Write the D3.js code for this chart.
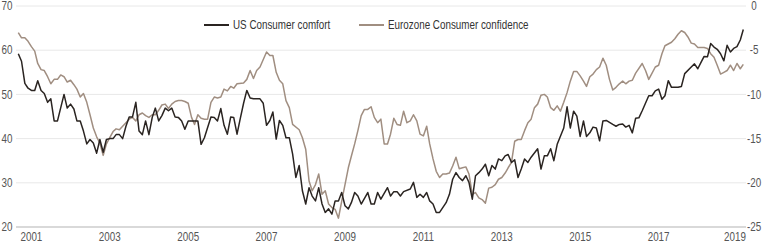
<!DOCTYPE html>
<html>
<head>
<meta charset="utf-8">
<script src="https://cdn.jsdelivr.net/npm/d3@7/dist/d3.min.js"></script>
<style>
  html, body { margin: 0; padding: 0; background: #fff; }
  svg { display: block; }
  text { font-family: "Liberation Sans Narrow", "Liberation Sans", Arial, sans-serif; }
</style>
</head>
<body>
<svg id="chart" width="765" height="242"></svg>
<script>
// ---- data ----
const seriesNames = ["US Consumer comfort", "Eurozone Consumer confidence"];
const firstMonth = "2000-09";
const lastMonth = "2019-03";
const yearLabels = ["2001", "2003", "2005", "2007", "2009", "2011", "2013", "2015", "2017", "2019"];
const leftTicks = [20, 30, 40, 50, 60, 70];
const rightTicks = [-25, -20, -15, -10, -5, 0];

// US Consumer comfort (left axis), monthly from 2000-09
const usComfort = [
  59.2, 57.5, 52.5, 51.4, 50.9, 50.9, 53.1, 50.9, 50.2, 48.2,
  49, 44, 44, null, 50, 46.9, 47.8, 46.7, 44, 44,
  41.7, 38.8, 39.8, 39, 36.7, 39.8, 36.9, 39.8, 40, 40,
  40.9, 40.9, 40, 42.8, 44.9, 44.9, 48.2, 41.7, 40.9, 44,
  40.9, 44.8, 46.9, 44, 45.2, 46.9, 46.3, 46.9, 44.9, 44.8,
  44, 42.1, 44, null, 44, 44, 38.7, 40.2, 42.5, 44.9,
  44.8, 44, 46.8, 43, 41, 44.9, 44.8, 41, 44.5, 48,
  50.9, 49.2, 49, 49, 49, 48, 43, 44.1, 46, 39.9,
  44.1, 43, 40.2, 40.2, 36.5, 31.2, 33.9, 28.2, 25.2, 28.9,
  27, 25.9, 28.9, 25.2, 23.3, 24.1, 22.9, 25.9, 25.9, 27.8,
  24.8, 24.1, 25.5, 27.8, 27, 25.2, null, 27.8, 25.2, 25.2,
  27.8, 26.3, null, 28.9, 27, 28, 28, 27, 28, null,
  28.6, 30.1, 26.7, 27.4, 26.7, 27.8, 25.9, 25.2, 23.3, 23.3,
  null, 25.5, 27.4, 30.8, 32.3, 31.2, 30.5, 31.6, 30.1, 26.3,
  31.6, 32.3, 33.1, 34.2, 31.6, 33.9, 33.1, 35.4, 35, 36.1,
  36.4, 34.6, 35.2, 31.2, 33.1, 35.4, 34.6, 35.8, null, 37.7,
  33.1, 36.1, 36.1, 37.7, 35, 38.7, null, 42.4, 47.2, 42.4,
  46.2, 45.1, 40.5, 44, 40.5, 41.3, 42.6, 42.4, 39.5, 44,
  44.1, null, 43.2, 42.8, 43.2, 43.3, 42.6, 43, 41.3, 44.6,
  44.7, 46.3, null, 49.7, 49.7, 50.8, 51.2, 48.9, 49.7, 53.1,
  51.6, null, 51.6, 51.8, 54.7, null, 56.2, 56.9, 55.8, 57.3,
  58.6, 58.5, 61.5, 60.7, 60.2, 59.2, 57.6, 61.1, 59.6, 60.4,
  60.8, 62.3, 64.7
];

// Eurozone Consumer confidence (right axis), monthly from 2000-09
const ezConfidence = [
  -3.0, -3.6, -3.6, -4.0, -4.6, -5.1, -6.5, -7.2, -7.3, -8.0,
  -8.8, -8.3, -8.3, -7.8, -8.0, -8.6, -8.4, -8.9, -9.4, -10.3,
  -9.9, -10.9, -12.3, -13.8, -14.8, -15.5, -16.9, -15.6, -14.9, -14.2,
  -13.9, -14.0, -13.6, -13.2, -12.8, -12.6, -13.0, -12.3, -12.1, -12.4,
  -12.6, -12.3, -12.3, -11.8, -11.2, -11.1, -11.6, -11.1, -10.8, -10.7,
  -10.7, -10.8, -11.0, -12.6, -13.4, -12.3, -12.7, -12.8, -12.8, -10.9,
  -10.3, -10.4, -10.3, -9.4, -9.6, -9.1, -9.3, -8.8, null, -8.7,
  -8.3, -7.3, -8.2, -7.3, -6.9, null, -5.2, -5.6, -5.6, -7.5,
  -8.4, -8.8, -10.7, -11.5, -13.4, null, -14.0, -14.9, -16.2, -19.8,
  -20.9, -20.2, -19.0, -21.3, -20.9, -22.4, -22.8, -23.0, -24.0, -22.1,
  -20.2, -18.3, -17.0, -15.6, -14.1, -12.4, -11.7, -11.7, -11.4, -12.6,
  -13.2, -12.8, -15.6, -15.6, -14.5, -12.7, -13.4, -13.5, -11.9, -13.2,
  -13.0, -12.3, -13.0, -14.5, -14.7, -13.6, -15.6, -17.3, -18.7, -19.4,
  -19.0, -19.0, -18.9, -18.1, -17.1, -18.4, -18.3, -18.2, -19.0, -21.3,
  -21.1, -21.7, -21.9, -22.3, -20.6, -20.5, -20.2, -19.6, -19.4, -18.9,
  -18.3, -17.7, -15.3, -15.1, -15.1, -14.1, -13.2, -12.8, -11.5, -11.1,
  -10.1, -10.0, -10.3, -11.5, -11.8, -11.3, -11.9, -10.9, -9.8, -8.5,
  -7.4, -7.4, -7.9, -8.5, -9.1, -8.0, -7.7, -7.2, -6.9, -5.9,
  -6.7, -8.3, -9.5, -9.2, -8.8, -8.5, -8.8, -8.5, -8.4, -7.6,
  null, -6.5, -7.3, -8.3, -7.6, -6.9, -6.7, -5.4, -4.5, null,
  -4.1, -3.7, -3.2, -2.8, -3.0, -3.5, -4.2, -4.3, -4.7, -4.7,
  -4.7, -4.8, -5.4, -5.8, -6.7, -7.7, -7.5, -7.3, -6.7, -7.3,
  -6.5, -7.1, -6.6
];

// ---- build ----
const parseMonth = d3.timeParse("%Y-%m");
const months = d3.timeMonth.range(parseMonth(firstMonth), d3.timeMonth.offset(parseMonth(lastMonth), 1));

const svg = d3.select("#chart");
const gridLeft = 16, gridRight = 746;

const x = d3.scaleTime()
  .domain([parseMonth(firstMonth), parseMonth(lastMonth)])
  .range([18.3, 743.3]);
const yL = d3.scaleLinear().domain([20, 70]).range([227, 6]);
const yR = d3.scaleLinear().domain([-25, 0]).range([227, 6]);

const fontSize = 12;
const tickColor = "#555";
const narrow = 0.82; // condensed look

function addText(parent, tx, ty, str, anchor, fill) {
  const g = parent.append("g").attr("transform", `translate(${tx},${ty}) scale(${narrow},1)`);
  return g.append("text")
    .attr("x", 0).attr("y", 0)
    .attr("dy", "0.35em")
    .attr("text-anchor", anchor)
    .attr("font-size", fontSize)
    .attr("fill", fill)
    .text(str);
}

// grid lines
svg.append("g").selectAll("line")
  .data(leftTicks.filter(t => t !== 20))
  .join("line")
  .attr("x1", gridLeft).attr("x2", gridRight)
  .attr("y1", d => yL(d)).attr("y2", d => yL(d))
  .attr("stroke", "#e8e8e8").attr("stroke-width", 1);

// baseline
svg.append("line")
  .attr("x1", gridLeft).attr("x2", gridRight)
  .attr("y1", yL(20)).attr("y2", yL(20))
  .attr("stroke", "#b3b3b3").attr("stroke-width", 1);

// left labels
const leftG = svg.append("g");
leftTicks.forEach(t => addText(leftG, 12.5, yL(t), t, "end", tickColor));

// right labels
const rightG = svg.append("g");
rightTicks.forEach(t => addText(rightG, 754, yR(t), t, "middle", tickColor));

// year labels
const yearG = svg.append("g");
yearLabels.forEach(lbl => {
  let cx = x(parseMonth(lbl + "-01"));
  const t = addText(yearG, cx, 236.5, lbl, "middle", tickColor);
  const w = t.node().getComputedTextLength() * narrow;
  if (cx + w / 2 > gridRight) {
    cx = gridRight - w / 2;
    t.node().parentNode.setAttribute("transform", `translate(${cx},236.5) scale(${narrow},1)`);
  }
});

// lines
const usData = months.map((d, i) => ({ d, v: usComfort[i] })).filter(p => p.v != null);
const ezData = months.map((d, i) => ({ d, v: ezConfidence[i] })).filter(p => p.v != null);

const lineL = d3.line().x(p => x(p.d)).y(p => yL(p.v));
const lineR = d3.line().x(p => x(p.d)).y(p => yR(p.v));

const colUS = "#2a2421";
const colEZ = "#a08e81";

svg.append("path").datum(ezData)
  .attr("d", lineR).attr("fill", "none")
  .attr("stroke", colEZ).attr("stroke-width", 1.5)
  .attr("stroke-linejoin", "round");

svg.append("path").datum(usData)
  .attr("d", lineL).attr("fill", "none")
  .attr("stroke", colUS).attr("stroke-width", 1.5)
  .attr("stroke-linejoin", "round");

// legend
const legend = [
  { name: seriesNames[0], color: colUS, x: 204 },
  { name: seriesNames[1], color: colEZ, x: 359 }
];
const lg = svg.append("g");
legend.forEach(l => {
  lg.append("line")
    .attr("x1", l.x).attr("x2", l.x + 25)
    .attr("y1", 25).attr("y2", 25)
    .attr("stroke", l.color).attr("stroke-width", 2);
  addText(lg, l.x + 29, 25, l.name, "start", "#333");
});
</script>
</body>
</html>
